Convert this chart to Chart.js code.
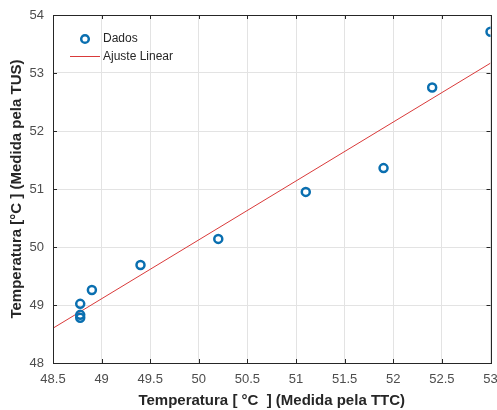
<!DOCTYPE html>
<html>
<head>
<meta charset="utf-8">
<script src="https://cdn.jsdelivr.net/npm/chart.js@4.4.1/dist/chart.umd.min.js"></script>
<style>
    html, body { margin: 0; padding: 0; background: #fff; }
    #wrap { width: 497px; height: 410px; }
</style>
</head>
<body>
<div id="wrap"><canvas id="grafico" width="497" height="410"></canvas></div>
<script>
// Dados medidos (TTC x TUS)
const tempTTC = [48.78, 48.78, 48.78, 48.9, 49.4, 50.2, 51.1, 51.9, 52.4, 53.0];
const tempTUS = [48.78, 48.83, 49.02, 49.26, 49.69, 50.14, 50.95, 51.36, 52.75, 53.71];

// Ajuste linear (extremos da reta)
const ajusteX = [48.5, 53.0];
const ajusteY = [48.6, 53.17];

const xTicks = [48.5, 49, 49.5, 50, 50.5, 51, 51.5, 52, 52.5, 53];
const yTicks = [48, 49, 50, 51, 52, 53, 54];

const tituloX = 'Temperatura [ °C  ] (Medida pela TTC)';
const tituloY = 'Temperatura [°C ] (Medida pela TUS)';

const azul = '#0a6fb0';
const vermelho = '#d93a3a';
const fonte = '"Liberation Sans", Arial, sans-serif';

// moldura + legenda estilo MATLAB
const molduraPlugin = {
    id: 'moldura',
    afterDraw(chart) {
        const ctx = chart.ctx;
        const a = chart.chartArea;
        const xs = chart.scales.x;
        const ys = chart.scales.y;
        ctx.save();
        ctx.strokeStyle = '#262626';
        ctx.lineWidth = 1;
        // ticks internos
        ctx.beginPath();
        xTicks.forEach(v => {
            const px = Math.round(xs.getPixelForValue(v)) + 0.5;
            ctx.moveTo(px, a.bottom); ctx.lineTo(px, a.bottom - 4);
            ctx.moveTo(px, a.top); ctx.lineTo(px, a.top + 4);
        });
        yTicks.forEach(v => {
            const py = Math.round(ys.getPixelForValue(v)) + 0.5;
            ctx.moveTo(a.left, py); ctx.lineTo(a.left + 4, py);
            ctx.moveTo(a.right, py); ctx.lineTo(a.right - 4, py);
        });
        ctx.stroke();
        ctx.strokeRect(Math.round(a.left) + 0.5, Math.round(a.top) + 0.5,
            Math.round(a.right - a.left), Math.round(a.bottom - a.top));

        // legenda
        const ds = chart.data.datasets;
        const lx = a.left + 17;
        ctx.font = '12px ' + fonte;
        ctx.fillStyle = '#262626';
        ctx.textBaseline = 'middle';
        ctx.beginPath();
        ctx.arc(a.left + 32, a.top + 24, 3.8, 0, Math.PI * 2);
        ctx.strokeStyle = azul;
        ctx.lineWidth = 2.5;
        ctx.stroke();
        ctx.fillText(ds[0].label, a.left + 50, a.top + 24);
        ctx.beginPath();
        ctx.moveTo(lx, a.top + 41.5);
        ctx.lineTo(lx + 30, a.top + 41.5);
        ctx.strokeStyle = vermelho;
        ctx.lineWidth = 1;
        ctx.stroke();
        ctx.fillText(ds[1].label, a.left + 50, a.top + 42);
        ctx.restore();
    }
};

const ctx = document.getElementById('grafico').getContext('2d');
new Chart(ctx, {
    type: 'scatter',
    data: {
        datasets: [
            {
                label: 'Dados',
                data: tempTTC.map((x, i) => ({ x: x, y: tempTUS[i] })),
                borderColor: azul,
                backgroundColor: 'rgba(0,0,0,0)',
                borderWidth: 2.5,
                pointRadius: 4,
                order: 1
            },
            {
                label: 'Ajuste Linear',
                type: 'line',
                data: ajusteX.map((x, i) => ({ x: x, y: ajusteY[i] })),
                borderColor: vermelho,
                borderWidth: 1,
                pointRadius: 0,
                fill: false,
                order: 2
            }
        ]
    },
    options: {
        responsive: false,
        animation: false,
        layout: { padding: { left: 0, right: 3, top: 15, bottom: 0 } },
        plugins: {
            legend: { display: false },
            tooltip: { enabled: false }
        },
        scales: {
            x: {
                type: 'linear',
                min: 48.5,
                max: 53,
                afterBuildTicks: s => { s.ticks = xTicks.map(v => ({ value: v })); },
                afterFit: s => { s.height = 47; s.paddingLeft = 0; s.paddingRight = 0; },
                grid: { color: '#e3e3e3', drawTicks: false },
                border: { display: false },
                ticks: {
                    padding: 9,
                    color: '#4d4d4d',
                    font: { family: fonte, size: 13 },
                    maxRotation: 0,
                    autoSkip: false,
                    callback: v => String(v)
                },
                title: {
                    display: true,
                    text: tituloX,
                    color: '#262626',
                    font: { family: fonte, size: 15, weight: 'bold' },
                    padding: { top: 2, bottom: 0 }
                }
            },
            y: {
                type: 'linear',
                min: 48,
                max: 54,
                afterBuildTicks: s => { s.ticks = yTicks.map(v => ({ value: v })); },
                afterFit: s => { s.width = 53; s.paddingTop = 0; s.paddingBottom = 0; },
                grid: { color: '#e3e3e3', drawTicks: false },
                border: { display: false },
                ticks: {
                    padding: 9,
                    color: '#4d4d4d',
                    font: { family: fonte, size: 13 },
                    autoSkip: false,
                    callback: v => String(v)
                },
                title: {
                    display: true,
                    text: tituloY,
                    color: '#262626',
                    font: { family: fonte, size: 15, weight: 'bold' },
                    padding: { top: 8, bottom: 0 }
                }
            }
        }
    },
    plugins: [molduraPlugin]
});
</script>
</body>
</html>
